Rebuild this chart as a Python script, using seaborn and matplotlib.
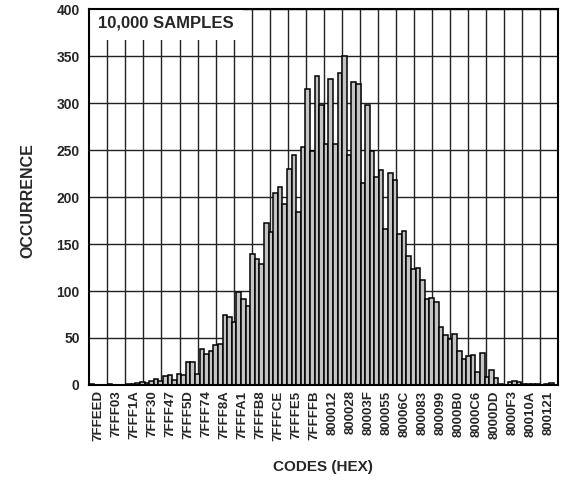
import matplotlib
matplotlib.use('Agg')
import matplotlib.pyplot as plt
import numpy as np
import pandas as pd
import seaborn as sns

# --- Data ---
counts = [
    1, 0, 0, 0, 1, 0, 0, 0, 1, 1,
    2, 3, 2, 4, 6, 4, 9, 11, 5, 12,
    11, 24, 24, 12, 38, 33, 36, 43, 44, 74,
    72, 67, 99, 91, 84, 139, 134, 129, 173, 163,
    204, 211, 193, 230, 245, 184, 253, 315, 249, 329,
    298, 257, 326, 257, 332, 350, 245, 323, 321, 215,
    298, 249, 221, 229, 166, 226, 218, 161, 164, 137,
    123, 124, 112, 92, 93, 88, 62, 53, 49, 54,
    36, 28, 31, 32, 14, 34, 8, 16, 7, 1,
    0, 3, 4, 3, 1, 1, 1, 1, 0, 1,
    2, 0,
]
code_labels = [
    '7FFEED', '7FFF03', '7FFF1A', '7FFF30', '7FFF47', '7FFF5D', '7FFF74',
    '7FFF8A', '7FFFA1', '7FFFB8', '7FFFCE', '7FFFE5', '7FFFFB', '800012',
    '800028', '80003F', '800055', '80006C', '800083', '800099', '8000B0',
    '8000C6', '8000DD', '8000F3', '80010A', '800121',
]
y_ticks = [0, 50, 100, 150, 200, 250, 300, 350, 400]

df = pd.DataFrame({'bin': np.arange(len(counts)), 'count': counts})

sns.set_style('white')
plt.rcParams['font.family'] = ['Liberation Sans', 'DejaVu Sans']
plt.rcParams['font.weight'] = 'bold'

fig = plt.figure(figsize=(5.73, 4.96), dpi=100)
ax = fig.add_axes([0.156, 0.224, 0.818, 0.757])

sns.barplot(data=df, x='bin', y='count', color='#c4c4c4', saturation=1,
            edgecolor='black', linewidth=1.1, width=1.0, ax=ax)

# grid divides the code axis into equal groups, one label per group
n = len(counts)
step = n / len(code_labels)
grid_pos = [-0.5 + step * i for i in range(1, len(code_labels))]
label_pos = [-0.5 + step * (i + 0.5) for i in range(len(code_labels))]

ax.set_xlim(-0.5, n - 0.5)
ax.set_ylim(0, 400)
ax.set_yticks(y_ticks)
ax.set_yticklabels([str(v) for v in y_ticks], fontsize=10, fontweight='bold')
ax.set_xticks(label_pos)
ax.set_xticklabels(code_labels, rotation=90, fontsize=9.5, fontweight='bold')
ax.set_xticks(grid_pos, minor=True)
ax.tick_params(axis='both', which='both', length=0)
ax.tick_params(axis='y', pad=7)
ax.tick_params(axis='x', pad=4)

ax.set_axisbelow(True)
ax.grid(which='minor', axis='x', color='#222222', linewidth=1.0)
ax.grid(which='major', axis='y', color='#222222', linewidth=1.0)
ax.grid(which='major', axis='x', visible=False)

for s in ax.spines.values():
    s.set_visible(True)
    s.set_color('black')
    s.set_linewidth(1.5)
    s.set_zorder(5)

ax.set_xlabel('')
ax.set_ylabel('')
fig.text(323 / 573, 1 - 467 / 496, 'CODES (HEX)', ha='center', va='center',
         fontsize=11, fontweight='bold')
fig.text(28 / 573, 1 - 201 / 496, 'OCCURRENCE', ha='center', va='center',
         rotation=90, fontsize=11.5, fontweight='bold')

ax.text(0.018, 0.965, '10,000 SAMPLES', transform=ax.transAxes, ha='left',
        va='center', fontsize=12, fontweight='bold', zorder=1.5,
        bbox=dict(facecolor='white', edgecolor='none', pad=7))

fig.savefig('out.png', dpi=100)
